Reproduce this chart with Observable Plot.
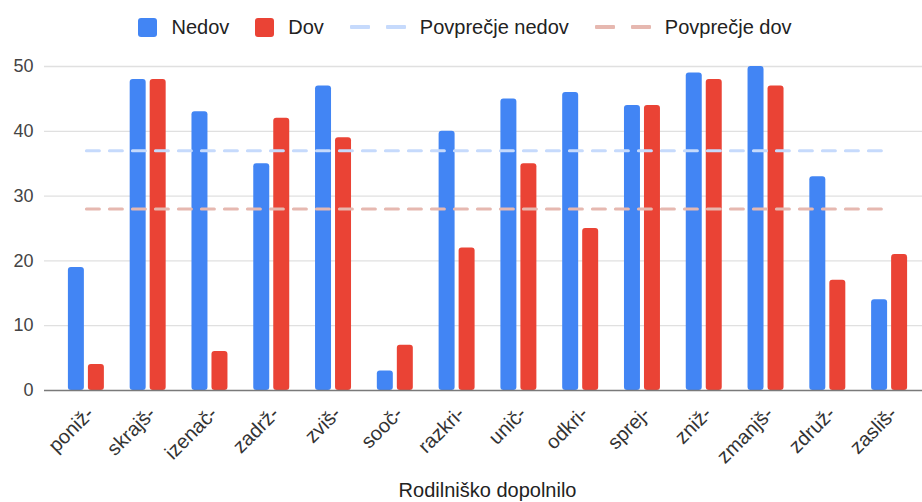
<!DOCTYPE html>
<html><head><meta charset="utf-8">
<script src="https://cdn.jsdelivr.net/npm/d3@7"></script>
<script src="https://cdn.jsdelivr.net/npm/@observablehq/plot@0.6"></script>
<style>
body{margin:0;background:#fff;font-family:"Liberation Sans",Arial,sans-serif;}
#legend{height:50px;display:flex;justify-content:center;align-items:center;font-size:20px;color:#222;box-sizing:border-box;padding-top:4px;padding-left:8px}
.item{display:flex;align-items:center;margin:0 13px}
.sq{width:19px;height:19px;border-radius:3px;margin-right:14px}
.dash{display:flex;margin-right:14px}
.dash span{display:block;width:20px;height:4px;border-radius:1px}
.dash span+span{margin-left:16px}
</style></head>
<body>
<div id="legend"></div>
<div id="chart"></div>
<script>
const categories = ["poniž-","skrajš-","izenač-","zadrž-","zviš-","sooč-","razkri-","unič-","odkri-","sprej-","zniž-","zmanjš-","združ-","zasliš-"];
const nedov = [19,48,43,35,47,3,40,45,46,44,49,50,33,14];
const dov   = [4,48,6,42,39,7,22,35,25,44,48,47,17,21];
const avgNedov = 37;
const avgDov = 28;
const yTicks = [0,10,20,30,40,50];
const seriesNames = ["Nedov","Dov","Povprečje nedov","Povprečje dov"];
const colors = {nedov:"#4285F4", dov:"#EA4335", avgNedov:"#c6dafc", avgDov:"#e6b8b0"};
const xTitle = "Rodilniško dopolnilo";

const rows = categories.map((c,i)=>({cat:c, nedov:nedov[i], dov:dov[i]}));

// legend
const lg = document.getElementById("legend");
const legendItems = [
  {name:seriesNames[0], kind:"sq", color:colors.nedov},
  {name:seriesNames[1], kind:"sq", color:colors.dov},
  {name:seriesNames[2], kind:"dash", color:colors.avgNedov},
  {name:seriesNames[3], kind:"dash", color:colors.avgDov}
];
for (const it of legendItems) {
  const d = document.createElement("div"); d.className="item";
  if (it.kind==="sq") {
    const s=document.createElement("div"); s.className="sq"; s.style.background=it.color; d.appendChild(s);
  } else {
    const s=document.createElement("div"); s.className="dash";
    for (let k=0;k<2;k++){const p=document.createElement("span"); p.style.background=it.color; s.appendChild(p);}
    d.appendChild(s);
  }
  const t=document.createElement("span"); t.textContent=it.name; d.appendChild(t);
  lg.appendChild(d);
}

const chart = Plot.plot({
  width: 922,
  height: 452,
  marginTop: 16,
  marginBottom: 112,
  marginLeft: 44,
  marginRight: 0,
  style: {fontFamily: "Liberation Sans, Arial, sans-serif", fontSize: "18px", background:"#fff"},
  x: {type:"band", domain: categories, padding: 0, round: false, insetLeft: 11, insetRight: 2, label: null},
  y: {domain: [0, 50], label: null},
  marks: [
    Plot.ruleY(yTicks.filter(t=>t>0), {stroke:"#e0e0e0", strokeWidth:1.3}),
    Plot.barY(rows, {x:"cat", y:"nedov", fill:colors.nedov, insetLeft:12.9, insetRight:32.9, rx:3}),
    Plot.barY(rows, {x:"cat", y:"dov", fill:colors.dov, insetLeft:32.9, insetRight:12.9, rx:3}),
    Plot.ruleY([0], {stroke:"#7a7a7a", strokeWidth:1.6}),
    Plot.lineY(rows, {x:"cat", y:()=>avgNedov, stroke:colors.avgNedov, strokeWidth:3, strokeDasharray:"13,10"}),
    Plot.lineY(rows, {x:"cat", y:()=>avgDov, stroke:colors.avgDov, strokeWidth:3, strokeDasharray:"13,10"}),
    Plot.axisY(yTicks, {tickSize:0, tickPadding:11, fontSize:18, fill:"#444", label:null}),
    Plot.axisX({tickSize:0, tickRotate:-45, tickPadding:20, dx:4, fontSize:20, fill:"#333", label:null}),
    Plot.text([xTitle], {frameAnchor:"bottom", dy:106, dx:4, fontSize:20, fill:"#222"})
  ]
});
document.getElementById("chart").appendChild(chart);
</script>
</body></html>
